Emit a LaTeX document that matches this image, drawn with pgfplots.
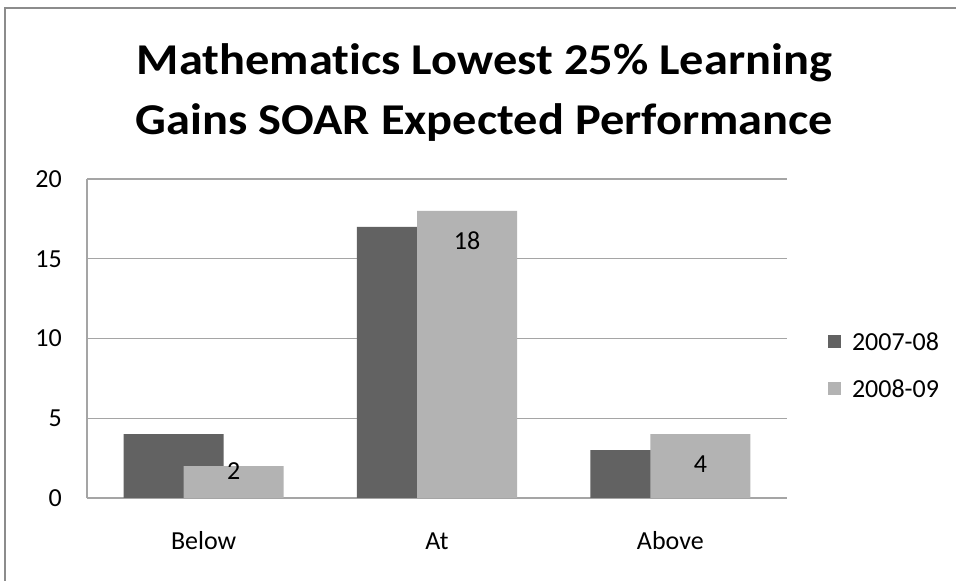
\documentclass[border=0pt]{standalone}
\usepackage{pgfplots}
\pgfplotsset{compat=1.18}
\usepackage{pgfplotstable}
\usepackage{fontspec}
\setmainfont{Carlito}[Ligatures={NoCommon}]
\newfontfamily\titlef{Carlito}[FakeStretch=1.1, Ligatures={NoCommon}]
\definecolor{darkbar}{RGB}{98,98,98}
\definecolor{lightbar}{RGB}{179,179,179}
\definecolor{gridc}{RGB}{165,165,165}
\definecolor{framec}{RGB}{140,140,140}

\pgfplotstableread{
x y
0 4
1 17
2 3
}\dataA
\pgfplotstableread{
x y off
0 2 5
1 18 30
2 4 30
}\dataB

\pgfplotsset{sq/.style={legend image code/.code={\fill[##1] (0bp,-5.5bp) rectangle (13bp,7.5bp);}}}

\begin{document}
\begin{tikzpicture}
\path[use as bounding box] (0,0) rectangle (956bp,581bp);
\fill[white] (0,0) rectangle (956bp,581bp);
\draw[framec, line width=2bp] (5bp,0) |- (956bp,573bp);
\node[anchor=base, inner sep=0pt, font=\titlef\fontsize{44bp}{52bp}\selectfont\bfseries] at (484.5bp,506bp) {Mathematics Lowest 25\% Learning};
\node[anchor=base, inner sep=0pt, font=\titlef\fontsize{44bp}{52bp}\selectfont\bfseries] at (484.5bp,446bp) {Gains SOAR Expected Performance};
\begin{axis}[
 at={(87bp,83bp)}, anchor=south west, scale only axis, width=700bp, height=319bp,
 xmin=-0.5, xmax=2.5, ymin=0, ymax=20,
 axis x line*=bottom, axis y line*=left,
 axis line style={gridc, line width=1.3bp, -},
 xtick={0,1,2}, xticklabels={Below,At,Above},
 ytick={0,5,...,20},
 major tick length=0pt,
 ymajorgrids, grid style={gridc, line width=1.3bp},
 tick label style={font=\fontsize{26bp}{30bp}\selectfont},
 /pgf/number format/assume math mode=true,
 yticklabel style={anchor=east, inner sep=0pt, xshift=-25bp},
 xticklabel style={anchor=base, inner sep=0pt, yshift=-51bp},
 legend style={at={(1.0586,0.414)}, anchor=west, draw=none, fill=none, inner sep=0pt, outer sep=0pt,
   font=\fontsize{26bp}{30bp}\selectfont, row sep=27bp, nodes={inner sep=0pt},
   /tikz/every odd column/.append style={column sep=11bp}},
]
\addplot[ybar, bar width=0.4286, bar shift=-0.1286, fill=darkbar, draw=none, sq] table[x=x,y=y]{\dataA};
\addlegendentry{2007-08}
\addplot[ybar, bar width=0.4286, bar shift=0.1286, fill=lightbar, draw=none, sq,
  nodes near coords, visualization depends on={\thisrow{off}\as\off},
  nodes near coords style={anchor=center, xshift=30bp, yshift=-\off bp, text=black, inner sep=0pt, font=\fontsize{26bp}{30bp}\selectfont}] table[x=x,y=y]{\dataB};
\addlegendentry{2008-09}
\end{axis}
\end{tikzpicture}
\end{document}
